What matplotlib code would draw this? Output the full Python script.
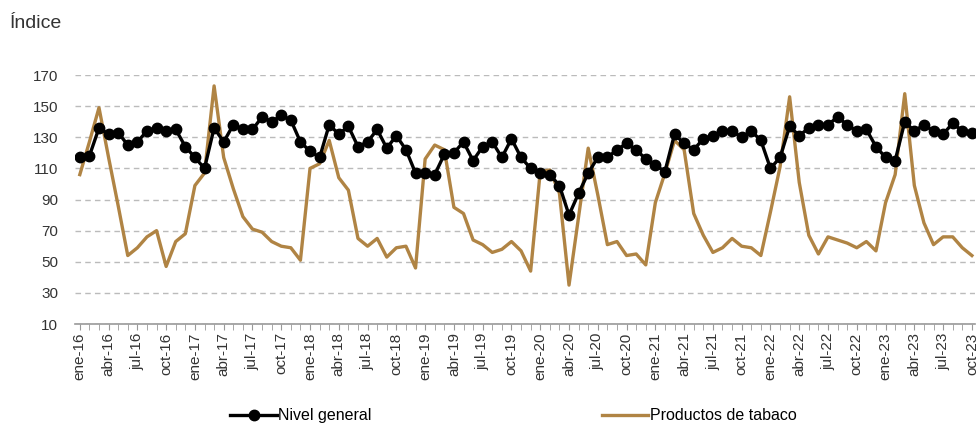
import matplotlib.pyplot as plt
import numpy as np

plt.rcParams['font.family'] = ['Liberation Sans', 'DejaVu Sans']

meses = ['ene', 'feb', 'mar', 'abr', 'may', 'jun', 'jul', 'ago', 'sep', 'oct', 'nov', 'dic']
anios = [16, 17, 18, 19, 20, 21, 22, 23]
fechas = [f'{m}-{a}' for a in anios for m in meses][:94]

nivel_general = [
    117, 118, 136, 132, 133, 125, 127, 134, 136, 134, 135, 124,
    117, 110, 136, 127, 138, 135, 135, 143, 140, 144, 141, 127,
    121, 117, 138, 132, 137, 124, 127, 135, 123, 131, 122, 107,
    107, 106, 119, 120, 127, 115, 124, 127, 117, 129, 117, 110,
    107, 106, 99, 80, 94, 107, 117, 117, 122, 126, 122, 116,
    112, 108, 132, 126, 122, 129, 131, 134, 134, 130, 134, 128,
    110, 117, 137, 131, 136, 138, 138, 143, 138, 134, 135, 124,
    117, 115, 140, 134, 138, 134, 132, 139, 134, 133,
]
tabaco = [
    106, 127, 149, 117, 86, 54, 59, 66, 70, 47, 63, 68,
    99, 107, 163, 117, 97, 79, 71, 69, 63, 60, 59, 51,
    110, 113, 128, 104, 96, 65, 60, 65, 53, 59, 60, 46,
    116, 125, 122, 85, 81, 64, 61, 56, 58, 63, 57, 44,
    108, 109, 94, 35, 79, 123, 93, 61, 63, 54, 55, 48,
    88, 107, 128, 122, 81, 67, 56, 59, 65, 60, 59, 54,
    82, 111, 156, 101, 67, 55, 66, 64, 62, 59, 63, 57,
    88, 106, 158, 99, 75, 61, 66, 66, 59, 54,
]

x = np.arange(len(fechas))

fig = plt.figure(figsize=(9.78, 4.25), dpi=100)
ax = fig.add_axes([0.0767, 0.2376, 0.92, 0.5859])

ax.plot(x, nivel_general, color='black', lw=2.4, marker='o', markersize=7.5,
        label='Nivel general', zorder=3)
ax.plot(x, tabaco, color='#B08444', lw=2.4, label='Productos de tabaco', zorder=2)

ax.set_ylim(10, 170)
ax.set_yticks(range(10, 171, 20))
ax.set_xlim(-0.5, 93.3)
ax.set_xticks(x[::3])
ax.set_xticklabels(fechas[::3], rotation=90, fontsize=11, color='#333333')
ax.set_xticks(x, minor=True)
ax.tick_params(axis='x', which='both', direction='out', length=4, color='#999999', pad=2)
ax.tick_params(axis='y', length=0, labelsize=11, labelcolor='#333333', pad=12)

ax.grid(axis='y', color='#BBBBBB', linestyle=(0, (4, 3)), linewidth=1)
for s in ['top', 'right', 'left']:
    ax.spines[s].set_visible(False)
ax.spines['bottom'].set_color('#999999')
ax.spines['bottom'].set_linewidth(1.2)

fig.text(0.01, 0.945, 'Índice', fontsize=14, color='#333333', va='center')

fig.legend(loc='lower center', bbox_to_anchor=(0.525, -0.03), ncol=2, frameon=False,
           fontsize=11.5, handlelength=2.9, columnspacing=14.4, handletextpad=0.1)

fig.savefig('out.png', dpi=100)
